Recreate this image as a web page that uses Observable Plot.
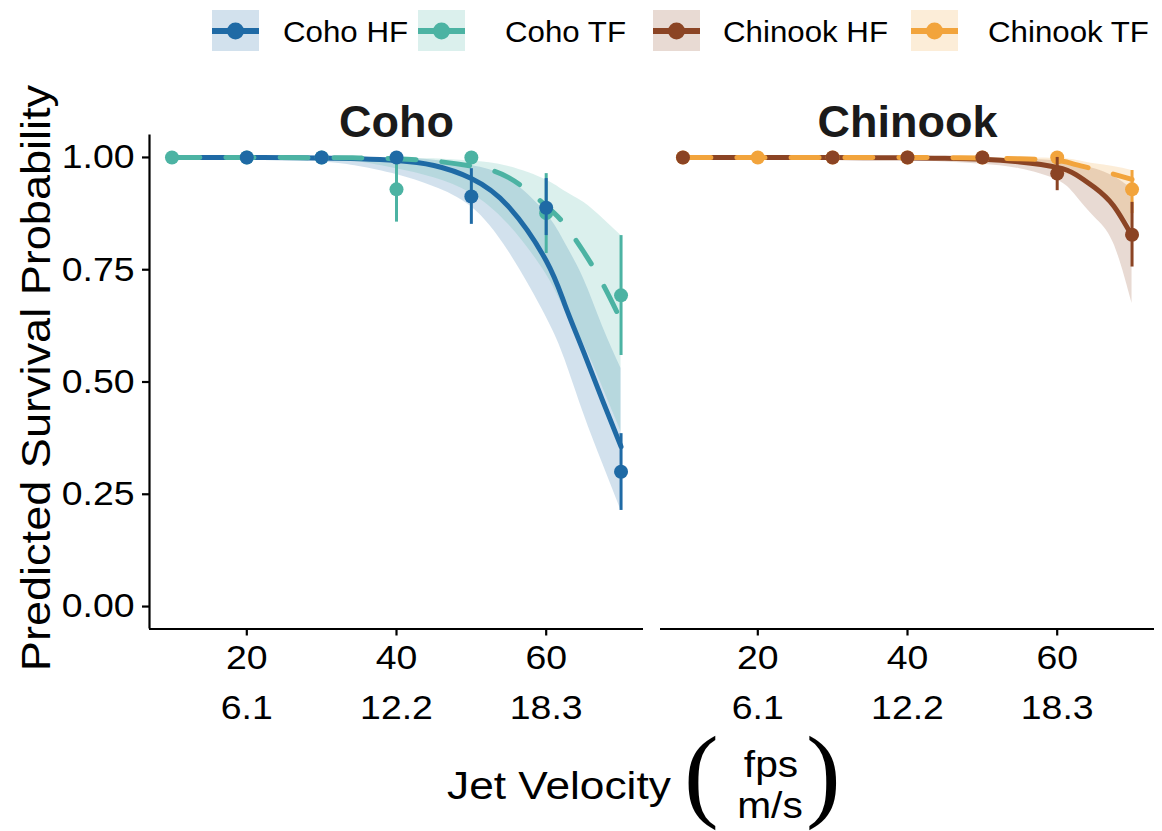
<!DOCTYPE html>
<html>
<head>
<meta charset="utf-8">
<script src="https://cdn.jsdelivr.net/npm/d3@7"></script>
<script src="https://cdn.jsdelivr.net/npm/@observablehq/plot@0.6"></script>
<style>
  body { margin: 0; background: #fff; }
  #wrap { position: relative; width: 1162px; height: 831px; overflow: hidden; }
  #wrap > svg { position: absolute; left: 0; top: 0; }
</style>
</head>
<body>
<div id="wrap"></div>
<script>
// ---------- data ----------
const species = ["Coho", "Chinook"];
const groups = ["Coho HF", "Coho TF", "Chinook HF", "Chinook TF"];
const groupColors = ["#1f6aa5", "#4cb3a3", "#8b4424", "#f2a43c"];

const xTicks = [20, 40, 60];                 // fps
const msLabels = ["6.1", "12.2", "18.3"];    // m/s
const yTicks = [0, 0.25, 0.5, 0.75, 1];
const xDomain = [7, 73];
const yDomain = [-0.05, 1.05];

// fitted curves
const fitFps = [10, 20, 30, 35, 40, 45, 50, 55, 60, 62.5, 65, 67.5, 70];

const cohoHFfit = [1.0, 0.9998, 0.9988, 0.997, 0.993, 0.982, 0.953, 0.89, 0.77, 0.672, 0.567, 0.46, 0.356];
const cohoHFlo  = [0.9999, 0.998, 0.99, 0.98, 0.962, 0.935, 0.89, 0.79, 0.645, 0.55, 0.43, 0.32, 0.214];
const cohoHFhi  = [1.0, 1.0, 0.9997, 0.999, 0.998, 0.994, 0.982, 0.952, 0.875, 0.81, 0.73, 0.625, 0.53];

const cohoTFfit = [1.0, 1.0, 0.9995, 0.999, 0.997, 0.992, 0.981, 0.955, 0.892, 0.85, 0.79, 0.72, 0.637];
const cohoTFlo  = [0.9999, 0.999, 0.995, 0.99, 0.975, 0.955, 0.92, 0.85, 0.74, 0.66, 0.585, 0.49, 0.39];
const cohoTFhi  = [1.0, 1.0, 1.0, 0.9995, 0.9985, 0.997, 0.992, 0.98, 0.95, 0.925, 0.9, 0.865, 0.826];

const chinHFfit = [1.0, 1.0, 1.0, 0.9995, 0.999, 0.998, 0.996, 0.99, 0.978, 0.962, 0.933, 0.893, 0.825];
const chinHFlo  = [1.0, 0.9995, 0.998, 0.996, 0.993, 0.99, 0.985, 0.975, 0.95, 0.915, 0.867, 0.81, 0.675];
const chinHFhi  = [1.0, 1.0, 1.0, 1.0, 1.0, 0.9997, 0.999, 0.997, 0.992, 0.985, 0.975, 0.958, 0.93];

const chinTFfit = [1.0, 1.0, 1.0, 1.0, 1.0, 0.9995, 0.999, 0.997, 0.993, 0.984, 0.974, 0.963, 0.951];
const chinTFlo  = [1.0, 1.0, 1.0, 0.9995, 0.999, 0.998, 0.995, 0.987, 0.97, 0.955, 0.93, 0.895, 0.845];
const chinTFhi  = [1.0, 1.0, 1.0, 1.0, 1.0, 1.0, 1.0, 0.9995, 0.998, 0.994, 0.986, 0.98, 0.971];

// observed survival with intervals
const cohoHFobsFps = [20, 30, 40, 50, 60, 70];
const cohoHFobs    = [1, 1, 1, 0.913, 0.888, 0.30];
const cohoHFobsLo  = [1, 1, 1, 0.851, 0.826, 0.214];
const cohoHFobsHi  = [1, 1, 1, 0.975, 0.953, 0.385];

const cohoTFobsFps = [10, 20, 30, 40, 50, 60, 70];
const cohoTFobs    = [1, 1, 1, 0.929, 1, 0.876, 0.693];
const cohoTFobsLo  = [1, 1, 1, 0.856, 1, 0.786, 0.559];
const cohoTFobsHi  = [1, 1, 1, 0.995, 1, 0.964, 0.826];

const chinHFobsFps = [10, 30, 40, 50, 60, 70];
const chinHFobs    = [1, 1, 1, 1, 0.964, 0.828];
const chinHFobsLo  = [1, 1, 1, 1, 0.926, 0.756];
const chinHFobsHi  = [1, 1, 1, 1, 1.0, 0.90];

const chinTFobsFps = [10, 20, 30, 40, 50, 60, 70];
const chinTFobs    = [1, 1, 1, 1, 1, 1, 0.929];
const chinTFobsLo  = [1, 1, 1, 1, 1, 1, 0.875];
const chinTFobsHi  = [1, 1, 1, 1, 1, 1, 0.971];

// ---------- tables ----------
const curveRows = (sp, g, fit, lo, hi) => fitFps.map((x, i) => ({species: sp, group: g, x, fit: fit[i], lo: lo[i], hi: hi[i]}));
const obsRows = (sp, g, xs, y, lo, hi) => xs.map((x, i) => ({species: sp, group: g, x, y: y[i], lo: lo[i], hi: hi[i]}));

const curves = [
  ...curveRows("Coho", "Coho HF", cohoHFfit, cohoHFlo, cohoHFhi),
  ...curveRows("Coho", "Coho TF", cohoTFfit, cohoTFlo, cohoTFhi),
  ...curveRows("Chinook", "Chinook HF", chinHFfit, chinHFlo, chinHFhi),
  ...curveRows("Chinook", "Chinook TF", chinTFfit, chinTFlo, chinTFhi)
];
const obs = [
  ...obsRows("Coho", "Coho HF", cohoHFobsFps, cohoHFobs, cohoHFobsLo, cohoHFobsHi),
  ...obsRows("Coho", "Coho TF", cohoTFobsFps, cohoTFobs, cohoTFobsLo, cohoTFobsHi),
  ...obsRows("Chinook", "Chinook HF", chinHFobsFps, chinHFobs, chinHFobsLo, chinHFobsHi),
  ...obsRows("Chinook", "Chinook TF", chinTFobsFps, chinTFobs, chinTFobsLo, chinTFobsHi)
];
const isTF = d => d.group.endsWith("TF");
const isHF = d => !isTF(d);
const msByFps = new Map(xTicks.map((f, i) => [f, msLabels[i]]));

const FONT = "'Liberation Sans', Arial, Helvetica, sans-serif";
const INK = "#000";
const CURVE = "natural";

const chart = Plot.plot({
  width: 1162,
  height: 831,
  marginLeft: 148,
  marginRight: 7,
  marginTop: 134.5,
  marginBottom: 202.5,
  style: {fontFamily: FONT, color: INK, background: "white", overflow: "visible"},
  fx: {domain: species, paddingInner: 0.033, paddingOuter: 0, axis: null, label: null},
  x: {domain: xDomain},
  y: {domain: yDomain},
  color: {domain: groups, range: groupColors},
  marks: [
    Plot.areaY(curves, {fx: "species", x: "x", y1: "lo", y2: "hi", z: "group", fill: "group", fillOpacity: 0.2, curve: CURVE}),
    Plot.lineY(curves.filter(isHF), {fx: "species", x: "x", y: "fit", z: "group", stroke: "group", strokeWidth: 5, curve: CURVE}),
    Plot.lineY(curves.filter(isTF), {fx: "species", x: "x", y: "fit", z: "group", stroke: "group", strokeWidth: 5, strokeDasharray: "28,26", curve: CURVE}),
    Plot.ruleX(obs.filter(isTF), {fx: "species", x: "x", y1: "lo", y2: "hi", stroke: "group", strokeWidth: 3}),
    Plot.dot(obs.filter(isTF), {fx: "species", x: "x", y: "y", r: 7, fill: "group"}),
    Plot.ruleX(obs.filter(isHF), {fx: "species", x: "x", y1: "lo", y2: "hi", stroke: "group", strokeWidth: 3}),
    Plot.dot(obs.filter(isHF), {fx: "species", x: "x", y: "y", r: 7, fill: "group"}),
    // axis lines
    Plot.ruleY([yDomain[0]], {stroke: INK, strokeWidth: 2.2}),
    Plot.ruleX([species[0]], {fx: d => d, x: () => xDomain[0], stroke: INK, strokeWidth: 2.2}),
    // axes
    Plot.axisY({ticks: yTicks, tickFormat: d3.format(".2f"), tickSize: 7, tickPadding: 8, fontSize: 34, strokeWidth: 2.2, label: null, facetAnchor: "left"}),
    Plot.axisX({ticks: xTicks, tickSize: 7, tickPadding: 9, fontSize: 34, strokeWidth: 2.2, label: null}),
    Plot.axisX({ticks: xTicks, tickFormat: d => msByFps.get(d), tickSize: 0, tickPadding: 66, fontSize: 34, label: null}),
    // facet titles
    Plot.text(species, {fx: d => d, text: d => d, frameAnchor: "top", dy: -29.5, fontSize: 45, fontWeight: "bold", fill: "#1a1a1a"})
  ]
});

// widen the regular-weight tick labels slightly, like the reference's lettering
chart.querySelectorAll('g[aria-label="x-axis tick label"] text, g[aria-label="y-axis tick label"] text').forEach(t => {
  t.setAttribute("transform", (t.getAttribute("transform") || "") + " scale(1.1,1)");
});

const wrap = document.getElementById("wrap");
wrap.appendChild(chart);

// ---------- overlay: legend and axis titles ----------
const NS = "http://www.w3.org/2000/svg";
const ov = document.createElementNS(NS, "svg");
ov.setAttribute("width", 1162);
ov.setAttribute("height", 831);
ov.style.fontFamily = FONT;
wrap.appendChild(ov);
const el = (name, attrs, parent = ov) => {
  const e = document.createElementNS(NS, name);
  for (const k in attrs) e.setAttribute(k, attrs[k]);
  parent.appendChild(e);
  return e;
};

// legend
const keyX = [212, 418, 653, 911];
const labelX = [283, 505, 723, 988];
groups.forEach((g, i) => {
  const c = groupColors[i];
  el("rect", {x: keyX[i], y: 10, width: 47, height: 41, fill: c, "fill-opacity": 0.2});
  el("line", {x1: keyX[i], x2: keyX[i] + 47, y1: 31, y2: 31, stroke: c, "stroke-width": 6});
  el("circle", {cx: keyX[i] + 23.5, cy: 31, r: 8.5, fill: c});
  const t = el("text", {transform: `translate(${labelX[i]},42) scale(1.06,1)`, "font-size": 29.5, fill: INK});
  t.textContent = g;
});

// y title
const yt = el("text", {transform: "translate(50,378) rotate(-90) scale(1.1,1)", "text-anchor": "middle", "font-size": 41, fill: INK});
yt.textContent = "Predicted Survival Probability";

// x title
const xt = el("text", {transform: "translate(447,799) scale(1.15,1)", "font-size": 38.5, fill: INK});
xt.textContent = "Jet Velocity";
const SERIF = "'Liberation Serif', 'DejaVu Serif', serif";
const lp = el("text", {transform: "translate(684,808)", "font-size": 104, "font-family": SERIF, fill: INK});
lp.textContent = "(";
const rp = el("text", {transform: "translate(806,808)", "font-size": 104, "font-family": SERIF, fill: INK});
rp.textContent = ")";
const num = el("text", {transform: "translate(771,777) scale(1.1,1)", "text-anchor": "middle", "font-size": 37, fill: INK});
num.textContent = "fps";
const den = el("text", {transform: "translate(770,818) scale(1.1,1)", "text-anchor": "middle", "font-size": 37, fill: INK});
den.textContent = "m/s";
</script>
</body>
</html>
